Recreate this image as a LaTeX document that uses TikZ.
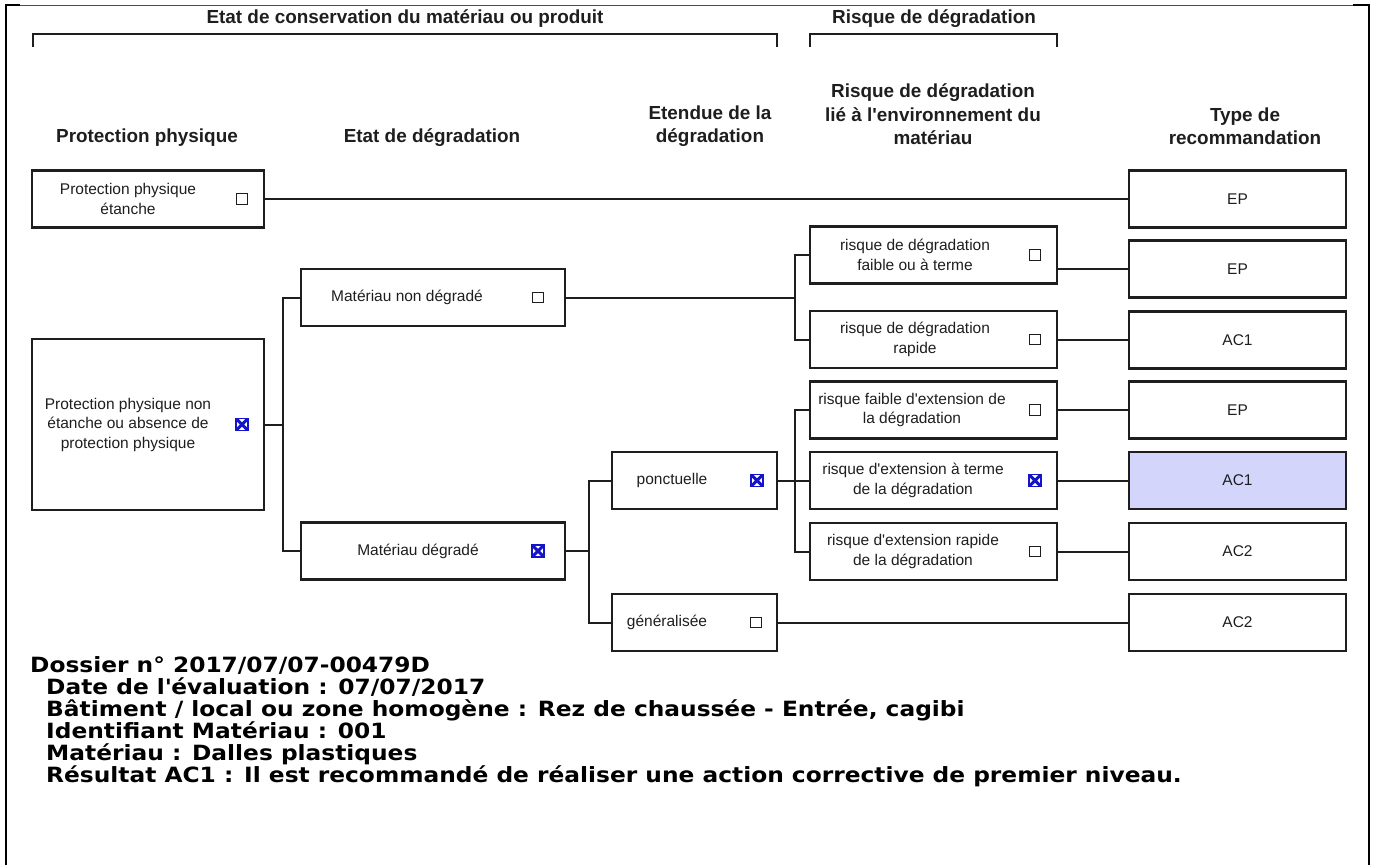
\documentclass[tikz,border=0pt]{standalone}
\usepackage{fontspec}
\setmainfont{Liberation Sans}
\newfontfamily\footfont{DejaVu Sans}[FakeStretch=1.11]
\definecolor{hilite}{RGB}{212,213,250}
\definecolor{ink}{RGB}{30,30,30}
\definecolor{xblue}{RGB}{20,20,200}
\begin{document}
\begin{tikzpicture}[x=1pt,y=-1pt]
\tikzset{
 box/.style={draw=ink, line width=2.2pt, minimum height=57pt, inner sep=0pt, font=\fontsize{15.5}{19.5}\selectfont, text=ink},
 txt/.style={font=\fontsize{15.5}{19.5}\selectfont, text=ink, align=center, inner sep=0pt},
 hdr/.style={font=\fontsize{18.9}{23.5}\selectfont\bfseries, text=ink, align=center, inner sep=0pt},
 chk/.style={draw=ink, line width=1.3pt, minimum size=10.5pt, inner sep=0pt},
 xchk/.style={draw=xblue, line width=1.5pt, minimum size=12pt, inner sep=0pt,
   path picture={\draw[xblue, line width=3pt] (path picture bounding box.south west) -- (path picture bounding box.north east) (path picture bounding box.north west) -- (path picture bounding box.south east);}},
 conn/.style={draw=ink, line width=2pt},
 brk/.style={draw=ink, line width=2.4pt},
 frame/.style={draw=black, line width=2.5pt},
 foot/.style={font=\footfont\bfseries\fontsize{21}{22}\selectfont, align=left, inner sep=0pt, anchor=north west}
}
\useasboundingbox (0,0) rectangle (1373,865);
% frame
\coordinate (f1) at (6,5); \coordinate (f2) at (6,865);
\coordinate (f3) at (1369,5); \coordinate (f4) at (1369,865);
\draw[black!70, line width=0.8pt] (f1) -- (f3);
\draw[frame] (f2) -- (f1) -- ++(14,0);
\draw[frame] (f3) ++(-16,0) -- (f3) -- (f4);
% titles and brackets
\node[hdr] (t1) at (405,19) {Etat de conservation du matériau ou produit};
\node[hdr] (t2) at (934,19) {Risque de dégradation};
\coordinate (b1a) at (33,47); \coordinate (b1b) at (777,47);
\coordinate (b2a) at (810,47); \coordinate (b2b) at (1057,47);
\draw[brk] (b1a) -- ++(0,-13) -| (b1b);
\draw[brk] (b2a) -- ++(0,-13) -| (b2b);
% column headers
\node[hdr] (h1) at (147,138) {Protection physique};
\node[hdr] (h2) at (432,138) {Etat de dégradation};
\node[hdr] (h3) at (710,126.25) {Etendue de la\\dégradation};
\node[hdr] (h4) at (933,114.5) {Risque de dégradation\\lié à l\textquotesingle environnement du\\matériau};
\node[hdr] (h5) at (1245,126.25) {Type de\\recommandation};
% column 1
\node[box, minimum width=232pt] (ppe) at (148,199) {};
\node[txt] (ppet) at (128,199) {Protection physique\\étanche};
\node[chk] (ppec) at (242,199) {};
\node[box, minimum width=232pt, minimum height=171pt] (ppne) at (148,424.5) {};
\node[txt] (ppnet) at (128,424.5) {Protection physique non\\étanche ou absence de\\protection physique};
\node[xchk] (ppnec) at (242,424.5) {};
% column 2
\node[box, minimum width=264pt] (mnd) at (433,297.5) {};
\node[txt] (mndt) at (407,297.5) {Matériau non dégradé};
\node[chk] (mndc) at (538,297.5) {};
\node[box, minimum width=264pt] (md) at (433,551) {};
\node[txt] (mdt) at (418,551) {Matériau dégradé};
\node[xchk] (mdc) at (538,551) {};
% column 3
\node[box, minimum width=165pt] (pon) at (694.5,480.5) {};
\node[txt] (pont) at (672,480.5) {ponctuelle};
\node[xchk] (ponc) at (757,480.5) {};
\node[box, minimum width=165pt] (gen) at (694.5,622.5) {};
\node[txt] (gent) at (667,622.5) {généralisée};
\node[chk] (genc) at (756,622.5) {};
% column 4
\node[box, minimum width=247pt] (r1) at (933.5,255) {};
\node[txt] (r1t) at (915,255) {risque de dégradation\\faible ou à terme};
\node[chk] (r1c) at (1035,255) {};
\node[box, minimum width=247pt] (r2) at (933.5,339.5) {};
\node[txt] (r2t) at (915,339.5) {risque de dégradation\\rapide};
\node[chk] (r2c) at (1035,339.5) {};
\node[box, minimum width=247pt] (r3) at (933.5,410) {};
\node[txt] (r3t) at (912,410) {risque faible d\textquotesingle extension de\\la dégradation};
\node[chk] (r3c) at (1035,410) {};
\node[box, minimum width=247pt] (r4) at (933.5,480.5) {};
\node[txt] (r4t) at (913,480.5) {risque d\textquotesingle extension à terme\\de la dégradation};
\node[xchk] (r4c) at (1035,480.5) {};
\node[box, minimum width=247pt] (r5) at (933.5,551.5) {};
\node[txt] (r5t) at (913,551.5) {risque d\textquotesingle extension rapide\\de la dégradation};
\node[chk] (r5c) at (1035,551.5) {};
% column 5
\node[box, minimum width=217pt] (ep1) at (1237.5,199) {EP};
\node[box, minimum width=217pt] (ep2) at (1237.5,269) {EP};
\node[box, minimum width=217pt] (ac1) at (1237.5,340) {AC1};
\node[box, minimum width=217pt] (ep3) at (1237.5,410) {EP};
\node[box, minimum width=217pt, fill=hilite] (ac1h) at (1237.5,480.5) {AC1};
\node[box, minimum width=217pt] (ac2) at (1237.5,551.5) {AC2};
\node[box, minimum width=217pt] (ac2b) at (1237.5,622.5) {AC2};
% connectors
\coordinate (j1) at (283,0); \coordinate (j2) at (589,0); \coordinate (j3) at (795,0);
\draw[conn] (ppe.east) -- (ep1.west);
\draw[conn] (ppne.east) -- (ppne.east -| j1);
\draw[conn] (mnd.west) -- (mnd.west -| j1) -- (md.west -| j1) -- (md.west);
\draw[conn] (md.east) -- (md.east -| j2);
\draw[conn] (pon.west) -- (pon.west -| j2) -- (gen.west -| j2) -- (gen.west);
\draw[conn] (mnd.east) -- (mnd.east -| j3);
\draw[conn] (r1.west) -- (r1.west -| j3) -- (r2.west -| j3) -- (r2.west);
\draw[conn] (pon.east) -- (pon.east -| j3);
\draw[conn] (r3.west) -- (r3.west -| j3) -- (r5.west -| j3) -- (r5.west);
\draw[conn] (r4.west) -- (r4.west -| j3);
\draw[conn] (ep2.west -| r1.east) -- (ep2.west);
\draw[conn] (r2.east) -- (r2.east -| ac1.west);
\draw[conn] (r3.east) -- (r3.east -| ep3.west);
\draw[conn] (r4.east) -- (r4.east -| ac1h.west);
\draw[conn] (r5.east) -- (r5.east -| ac2.west);
\draw[conn] (gen.east) -- (gen.east -| ac2b.west);
% footer
\node[foot] (ft) at (30,656) {Dossier n° 2017/07/07-00479D\\
\hspace*{16pt}Date de l\textquotesingle évaluation : 07/07/2017\\
\hspace*{16pt}Bâtiment / local ou zone homogène : Rez de chaussée - Entrée, cagibi\\
\hspace*{16pt}Identifiant Matériau : 001\\
\hspace*{16pt}Matériau : Dalles plastiques\\
\hspace*{16pt}Résultat AC1 : Il est recommandé de réaliser une action corrective de premier niveau.};
\end{tikzpicture}
\end{document}
